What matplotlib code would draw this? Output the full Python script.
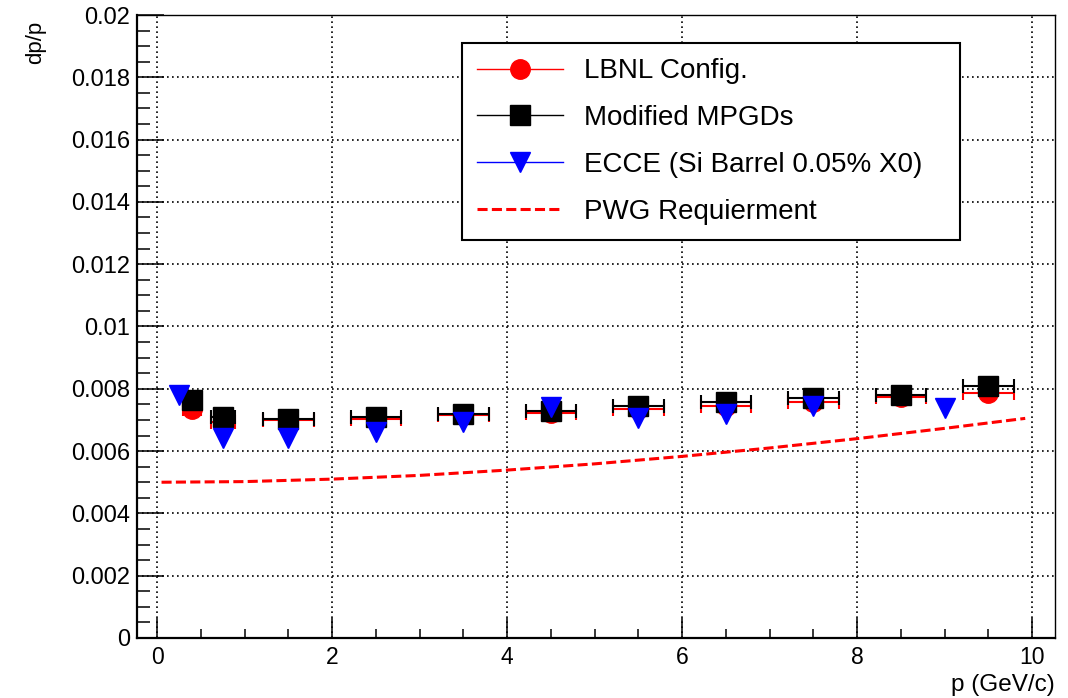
import matplotlib
matplotlib.use("Agg")
import matplotlib.pyplot as plt
from matplotlib.lines import Line2D
from matplotlib.ticker import MultipleLocator
import numpy as np

plt.rcParams['font.family'] = ['Liberation Sans', 'DejaVu Sans']

# LBNL config (red circles) and modified MPGDs (black squares)
p_bins = [0.4, 0.75, 1.5, 2.5, 3.5, 4.5, 5.5, 6.5, 7.5, 8.5, 9.5]
p_err = [0.1, 0.14, 0.29, 0.29, 0.29, 0.29, 0.29, 0.29, 0.29, 0.29, 0.29]
lbnl = [0.00735, 0.00692, 0.00700, 0.00704, 0.00716, 0.00723, 0.00734,
        0.00745, 0.00757, 0.00774, 0.00787]
mpgd = [0.00764, 0.00710, 0.00702, 0.00710, 0.00718, 0.00728, 0.00745,
        0.00757, 0.00771, 0.00780, 0.00809]

# ECCE (blue triangles)
ecce_p = [0.25, 0.75, 1.5, 2.5, 3.5, 4.5, 5.5, 6.5, 7.5, 9.0]
ecce = [0.00780, 0.00643, 0.00643, 0.00661, 0.00692, 0.00743, 0.00706,
        0.00718, 0.00745, 0.00738]

# PWG requirement curve
pwg_p = [0.05, 1, 2, 3, 4, 5, 6, 7, 8, 9, 9.92]
pwg = [0.00500, 0.00502, 0.00510, 0.00522, 0.00539, 0.00559, 0.00583,
       0.00610, 0.00640, 0.00673, 0.00705]

yticks = [0, 0.002, 0.004, 0.006, 0.008, 0.01, 0.012, 0.014, 0.016, 0.018, 0.02]
ylabels = ['0', '0.002', '0.004', '0.006', '0.008', '0.01', '0.012', '0.014',
           '0.016', '0.018', '0.02']
xticks = [0, 2, 4, 6, 8, 10]

fig = plt.figure(figsize=(10.68, 6.98), dpi=100)
ax = fig.add_axes([0.1283, 0.086, 0.8595, 0.8925])

ms = 14
ax.errorbar(p_bins, lbnl, xerr=p_err, fmt='o', color='red', ms=ms,
            elinewidth=1.5, capsize=5, capthick=1.5, zorder=3)
ax.errorbar(p_bins, mpgd, xerr=p_err, fmt='s', color='black', ms=ms,
            elinewidth=1.5, capsize=5, capthick=1.5, zorder=4)
ax.plot(ecce_p, ecce, 'v', color='blue', ms=ms, zorder=5)
ax.plot(pwg_p, pwg, color='red', lw=2.2, linestyle=(0, (3.3, 1.4)), zorder=2)

ax.set_xlim(-0.23, 10.26)
ax.set_ylim(0, 0.02)
ax.set_xticks(xticks)
ax.set_yticks(yticks)
ax.set_yticklabels(ylabels)
ax.xaxis.set_minor_locator(MultipleLocator(0.5))
ax.yaxis.set_minor_locator(MultipleLocator(0.0005))

ax.grid(True, which='major', color='black', lw=1.2, linestyle=(0, (1, 2)))
ax.set_axisbelow(True)

ax.tick_params(axis='y', which='major', direction='in', length=19.4, width=1.1,
               labelsize=17, pad=5)
ax.tick_params(axis='y', which='minor', direction='in', length=9.4, width=1.1)
ax.tick_params(axis='x', which='major', direction='in', length=14.4, width=1.1,
               labelsize=16.5, pad=6)
ax.tick_params(axis='x', which='minor', direction='in', length=6.5, width=1.1)

for s in ['left', 'bottom']:
    ax.spines[s].set_linewidth(1.6)
for s in ['top', 'right']:
    ax.spines[s].set_linewidth(1.0)

fig.text(0.9878, 0.019, 'p (GeV/c)', ha='right', va='center', fontsize=17.5)
fig.text(0.033, 0.97, 'dp/p', ha='center', va='top', rotation=90, fontsize=16)

handles = [
    Line2D([], [], color='red', marker='o', ms=ms, lw=1),
    Line2D([], [], color='black', marker='s', ms=ms, lw=1),
    Line2D([], [], color='blue', marker='v', ms=ms, lw=1),
    Line2D([], [], color='red', lw=2.2, linestyle=(0, (3.3, 1.4))),
]
names = ['LBNL Config.', 'Modified MPGDs', 'ECCE (Si Barrel 0.05% X0)',
         'PWG Requierment']
leg = ax.legend(handles, names, loc='upper left',
                bbox_to_anchor=(0.354, 0.645, 0.5425, 0.31), mode='expand',
                fontsize=20, numpoints=1, handlelength=3.1, handletextpad=0.75,
                borderpad=0.55, labelspacing=0.75, fancybox=False, framealpha=1,
                edgecolor='black', borderaxespad=0)
leg.get_frame().set_linewidth(1.5)

fig.savefig('out.png', dpi=100)
